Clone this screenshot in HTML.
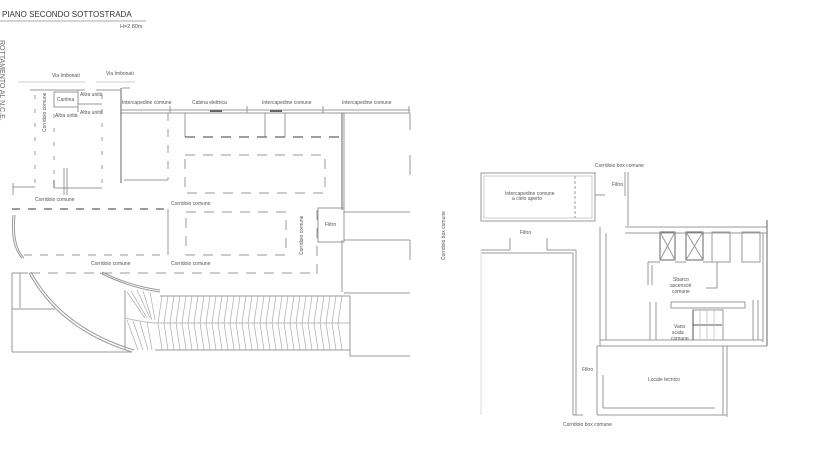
<!DOCTYPE html>
<html><head><meta charset="utf-8"><style>
html,body{margin:0;padding:0;background:#fff;width:832px;height:455px;overflow:hidden}
svg{display:block}
text{font-family:"Liberation Sans",sans-serif;fill:#555;font-size:5px}
</style></head><body>
<svg width="832" height="455" viewBox="0 0 832 455" xmlns="http://www.w3.org/2000/svg">
<g stroke="#999" stroke-width="1" fill="none">
<line x1="0" y1="21" x2="146" y2="21" stroke="#aaa"/>
<line x1="30" y1="90" x2="85" y2="90"/><line x1="96" y1="90" x2="120" y2="90"/>
<line x1="18" y1="82" x2="85" y2="82" stroke="#ccc"/><line x1="96" y1="82" x2="135" y2="82" stroke="#ccc"/>
<line x1="122" y1="88" x2="130" y2="88"/>
<line x1="121" y1="88" x2="121" y2="183" stroke="#666"/>
<line x1="120" y1="110" x2="410" y2="110"/><line x1="120" y1="113" x2="410" y2="113"/>
<line x1="210" y1="111" x2="222" y2="111" stroke="#666" stroke-width="2"/>
<line x1="270" y1="111" x2="282" y2="111" stroke="#666" stroke-width="2"/>
<line x1="170" y1="106" x2="170" y2="113"/><line x1="247" y1="106" x2="247" y2="113"/><line x1="323" y1="106" x2="323" y2="113"/><line x1="409" y1="106" x2="409" y2="113"/>
<g stroke-dasharray="4 10"><line x1="35" y1="95" x2="35" y2="190"/><line x1="102" y1="95" x2="102" y2="190"/><line x1="54" y1="100" x2="54" y2="190"/></g>
<line x1="54" y1="180" x2="54" y2="188" stroke="#666"/><line x1="54" y1="188" x2="102" y2="188"/>
<line x1="64" y1="168" x2="64" y2="195"/><line x1="67" y1="168" x2="67" y2="195"/>
<rect x="54" y="92" width="24" height="15"/><line x1="78" y1="90" x2="78" y2="112"/><line x1="78" y1="104" x2="102" y2="104"/>
<line x1="13" y1="183" x2="13" y2="195"/><line x1="13" y1="187" x2="35" y2="187"/>
<line x1="168" y1="113" x2="168" y2="180" stroke-dasharray="8 8"/>
<line x1="124" y1="180" x2="168" y2="180"/>
<line x1="185" y1="113" x2="185" y2="137"/><line x1="265" y1="113" x2="265" y2="137"/><line x1="285" y1="113" x2="285" y2="137"/>
<line x1="185" y1="137" x2="342" y2="137" stroke="#666" stroke-width="1.3" stroke-dasharray="10 8"/>
<rect x="185" y="155" width="140" height="38" stroke-dasharray="10 8"/>
<line x1="342" y1="113" x2="342" y2="210" stroke="#666"/><line x1="344" y1="113" x2="344" y2="210"/>
<line x1="344" y1="212" x2="410" y2="212"/>
<line x1="410" y1="113" x2="410" y2="130"/><line x1="410" y1="155" x2="410" y2="175"/>
<line x1="12" y1="209" x2="168" y2="209" stroke="#666" stroke-width="1.3" stroke-dasharray="8 8"/>
<line x1="168" y1="209" x2="168" y2="255"/>
<line x1="24" y1="255" x2="168" y2="255" stroke-dasharray="8 8"/>
<rect x="186" y="212" width="100" height="43" stroke-dasharray="10 8"/>
<line x1="30" y1="273" x2="318" y2="273" stroke-dasharray="10 8"/>
<line x1="317" y1="210" x2="317" y2="280" stroke-dasharray="10 8"/>
<rect x="318" y="208" width="26" height="34"/>
<line x1="344" y1="240" x2="410" y2="240"/><line x1="342" y1="240" x2="342" y2="292"/>
<line x1="344" y1="293" x2="410" y2="293"/><line x1="410" y1="240" x2="410" y2="260"/>
<line x1="350" y1="356" x2="410" y2="356"/><line x1="350" y1="352" x2="350" y2="356"/>
<path d="M13 215 Q10 245 22 258"/><path d="M15 215 Q12 245 24 258"/>
<path d="M29 273 Q60 330 132 352"/><path d="M31 272 Q62 328 134 350"/>
<path d="M100 273 Q130 288 160 292"/><path d="M102 272 Q130 286 160 290"/>
<line x1="12" y1="273" x2="12" y2="352"/><line x1="12" y1="273" x2="28" y2="273"/>
<line x1="12" y1="352" x2="132" y2="352"/><line x1="20" y1="273" x2="20" y2="308"/><line x1="12" y1="309" x2="55" y2="309"/>
<line x1="125" y1="290" x2="125" y2="350"/>
<line x1="160" y1="296" x2="350" y2="296"/>
<line x1="155" y1="350" x2="350" y2="350"/>
<path d="M125 318 Q145 323 160 323 L350 323" stroke="#bbb"/>
<line x1="350" y1="296" x2="350" y2="356"/>
</g>
<g stroke="#aaa" stroke-width="0.7" fill="none">
<path d="M162 296 L158 323 L162 350 M168 296 L164 323 L168 350 M174 296 L170 323 L174 350 M180 296 L176 323 L180 350 M186 296 L182 323 L186 350 M192 296 L188 323 L192 350 M198 296 L194 323 L198 350 M204 296 L200 323 L204 350 M210 296 L206 323 L210 350 M216 296 L212 323 L216 350 M222 296 L218 323 L222 350 M228 296 L224 323 L228 350 M234 296 L230 323 L234 350 M240 296 L236 323 L240 350 M246 296 L242 323 L246 350 M252 296 L248 323 L252 350 M258 296 L254 323 L258 350 M264 296 L260 323 L264 350 M270 296 L266 323 L270 350 M276 296 L272 323 L276 350 M282 296 L278 323 L282 350 M288 296 L284 323 L288 350 M294 296 L290 323 L294 350 M300 296 L296 323 L300 350 M306 296 L302 323 L306 350 M312 296 L308 323 L312 350 M318 296 L314 323 L318 350 M324 296 L320 323 L324 350 M330 296 L326 323 L330 350 M336 296 L332 323 L336 350 M342 296 L338 323 L342 350"/>
<path d="M127 292 L145 318 M131 291 L147 318 M137 290 L150 318 M143 291 L152 320 M150 292 L155 320 M127 320 L138 350 M133 321 L143 350 M140 322 L148 350 M147 322 L152 350"/>
</g>
<g stroke="#999" stroke-width="1" fill="none">
<rect x="481" y="173" width="114" height="48"/><rect x="484" y="176" width="108" height="42" stroke="#ccc"/>
<line x1="575" y1="176" x2="575" y2="218" stroke-dasharray="3 2"/>
<line x1="595" y1="172" x2="595" y2="195"/><line x1="595" y1="195" x2="605" y2="195"/>
<line x1="625" y1="172" x2="625" y2="196"/><line x1="628" y1="172" x2="628" y2="226"/>
<line x1="481" y1="250" x2="510" y2="250"/><line x1="510" y1="238" x2="510" y2="250"/>
<line x1="547" y1="238" x2="547" y2="250"/><line x1="547" y1="250" x2="576" y2="250"/>
<line x1="481" y1="253" x2="573" y2="253"/>
<line x1="573" y1="253" x2="573" y2="415"/><line x1="576" y1="250" x2="576" y2="415"/>
<line x1="481" y1="250" x2="481" y2="415" stroke="#ddd"/>
<line x1="625" y1="227" x2="767" y2="227"/><line x1="625" y1="233" x2="767" y2="233"/>
<line x1="767" y1="220" x2="767" y2="346" stroke="#666"/><line x1="763" y1="233" x2="763" y2="342"/>
<line x1="600" y1="227" x2="600" y2="346"/><line x1="606" y1="233" x2="606" y2="340"/>
<line x1="600" y1="340" x2="763" y2="340"/><line x1="597" y1="346" x2="767" y2="346"/>
<rect x="660" y="232" width="15" height="28" stroke="#666"/><path d="M660 232 L675 260 M675 232 L660 260" stroke="#999"/>
<rect x="686" y="232" width="17" height="28" stroke="#666"/><path d="M686 232 L703 260 M703 232 L686 260" stroke="#999"/>
<rect x="712" y="232" width="18" height="30"/><rect x="742" y="232" width="18" height="30"/>
<path d="M648 262 L660 262 M648 262 L648 285 M652 265 L652 285 M675 262 L686 262 M703 262 L717 262 L717 288 L706 288"/>
<path d="M650 302 L650 340 M656 302 L656 340 M671 302 L745 302 L745 308 L671 308 Z"/>
<path d="M753 300 L753 340 M758 300 L758 340"/>
<rect x="693" y="310" width="30" height="30"/>
<line x1="693" y1="325" x2="722" y2="325" stroke="#555"/>
<line x1="693" y1="310" x2="693" y2="340" stroke="#555"/>
<line x1="597" y1="346" x2="597" y2="415"/><line x1="723" y1="346" x2="723" y2="415"/><line x1="727" y1="346" x2="727" y2="417"/>
<line x1="597" y1="415" x2="727" y2="415"/><line x1="603" y1="408" x2="715" y2="408"/>
<line x1="603" y1="375" x2="603" y2="408"/>
<line x1="573" y1="415" x2="583" y2="415"/>
</g>
<g stroke="#bbb" stroke-width="0.7">
<line x1="700" y1="310" x2="700" y2="340"/><line x1="707" y1="310" x2="707" y2="340"/><line x1="714" y1="310" x2="714" y2="340"/>
</g>
<text x="2" y="17" style="font-size:8px;fill:#333">PIANO SECONDO SOTTOSTRADA</text>
<text x="120" y="28" style="font-size:5.5px">H=2.80m</text>
<text transform="translate(0,40) rotate(90)" style="font-size:7px;fill:#666">ROTTAMENTO AL N.C.E.</text>
<text x="52" y="77">Via Imbonati</text>
<text x="106" y="75">Via Imbonati</text>
<text x="57" y="101">Cantina</text>
<text x="80" y="96">Altra unità</text>
<text x="80" y="114">Altra unità</text>
<text x="55" y="117">Altra unità</text>
<text transform="translate(46,132) rotate(-90)">Corridoio comune</text>
<text x="122" y="104">Intercapedine comune</text>
<text x="192" y="104">Cabina elettrica</text>
<text x="262" y="104">Intercapedine comune</text>
<text x="342" y="104">Intercapedine comune</text>
<text x="35" y="201">Corridoio comune</text>
<text x="171" y="205">Corridoio comune</text>
<text x="91" y="265">Corridoio comune</text>
<text x="171" y="265">Corridoio comune</text>
<text x="325" y="226">Filtro</text>
<text transform="translate(303,255) rotate(-90)">Corridoio comune</text>
<text x="595" y="167">Corridoio box comune</text>
<text x="612" y="186">Filtro</text>
<text x="505" y="195">Intercapedine comune</text>
<text x="512" y="200">a cielo aperto</text>
<text transform="translate(445,260) rotate(-90)">Corridoio box comune</text>
<text x="520" y="234">Filtro</text>
<text x="673" y="281">Sbarco</text>
<text x="670" y="287">ascensori</text>
<text x="672" y="293">comune</text>
<text x="674" y="328">Vano</text>
<text x="672" y="334">scala</text>
<text x="671" y="340">comune</text>
<text x="648" y="381">Locale tecnico</text>
<text x="582" y="371">Filtro</text>
<text x="563" y="426">Corridoio box comune</text>
</svg>
</body></html>
